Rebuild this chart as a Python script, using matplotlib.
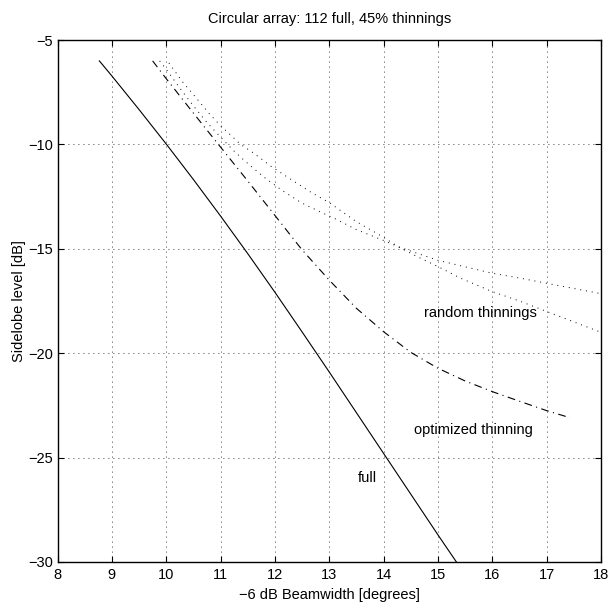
import matplotlib
matplotlib.use('Agg')
from matplotlib import pyplot as plt

# full array
x_full = [8.77, 9.0, 9.5, 10.0, 10.5, 11.0, 11.5, 12.0, 12.5, 13.0, 13.5, 14.0, 14.5, 15.0, 15.34]
y_full = [-6.0, -6.72, -8.33, -9.98, -11.68, -13.43, -15.23, -17.08, -18.98, -20.9, -22.85, -24.8, -26.75, -28.7, -30.0]

# optimized thinning
x_opt = [9.75, 10.0, 10.5, 11.0, 11.5, 12.0, 12.5, 13.0, 13.5, 14.0, 14.5, 15.0, 15.5, 16.0, 16.5, 17.0, 17.43]
y_opt = [-6.0, -6.85, -8.5, -10.13, -11.75, -13.4, -15.05, -16.5, -17.85, -18.97, -19.96, -20.72, -21.33, -21.84, -22.3, -22.75, -23.09]

# random thinnings (two runs)
x_rnd1 = [9.88, 10.0, 10.25, 10.5, 10.75, 11.0, 11.24, 11.45, 11.79, 12.13, 12.49, 12.85, 13.1, 13.5, 14.0, 14.27,
          14.6, 15.0, 15.4, 16.0, 16.5, 17.0, 17.5, 18.0]
y_rnd1 = [-6.0, -6.4, -7.3, -8.15, -8.95, -9.65, -10.3, -10.8, -11.55, -12.2, -12.8, -13.25, -13.55, -14.08, -14.6, -14.9,
          -15.2, -15.55, -15.8, -16.17, -16.4, -16.65, -16.9, -17.15]
x_rnd2 = [10.05, 10.3, 10.56, 10.8, 11.0, 11.37, 11.6, 11.94, 12.31, 12.65, 13.02, 13.17, 13.5, 14.0, 14.27,
          14.6, 15.0, 15.41, 16.0, 16.5, 17.0, 17.5, 18.0]
y_rnd2 = [-6.1, -7.0, -7.8, -8.55, -9.1, -10.0, -10.4, -11.07, -11.7, -12.27, -12.82, -13.1, -13.7, -14.45, -14.9,
          -15.35, -15.85, -16.4, -17.05, -17.5, -18.0, -18.5, -19.0]

x_ticks = [8, 9, 10, 11, 12, 13, 14, 15, 16, 17, 18]
y_ticks = [-30, -25, -20, -15, -10, -5]

plt.rcParams['font.family'] = ['Liberation Sans', 'DejaVu Sans']
plt.rcParams['font.size'] = 10.5

fig = plt.figure(figsize=(6.1, 6.1), dpi=100)
ax = fig.add_axes([0.0943, 0.0787, 0.8909, 0.8557])

ax.plot(x_full, y_full, color='k', linewidth=0.8)
ax.plot(x_opt, y_opt, color='k', linewidth=0.8, linestyle=(0, (7, 4, 1, 4)))
ax.plot(x_rnd1, y_rnd1, color='k', linewidth=0.7, linestyle=(0, (1, 5)))
ax.plot(x_rnd2, y_rnd2, color='k', linewidth=0.7, linestyle=(0, (1, 5)))

ax.text(14.75, -18.07, 'random thinnings', va='center', ha='left')
ax.text(14.56, -23.68, 'optimized thinning', va='center', ha='left')
ax.text(13.53, -26.0, 'full', va='center', ha='left')

ax.set_xlim(8, 18)
ax.set_ylim(-30, -5)
ax.set_xticks(x_ticks)
ax.set_yticks(y_ticks)
ax.set_xticklabels([str(t) for t in x_ticks])
ax.set_yticklabels([str(t).replace('-', '\u2212') for t in y_ticks])
ax.tick_params(direction='in', top=True, right=True, length=4, width=0.8, pad=3)
ax.tick_params(axis='x', pad=4)
ax.grid(True, color='k', linewidth=0.6, linestyle=(0, (1, 5)))
for s in ax.spines.values():
    s.set_linewidth(1.0)

ax.set_title('Circular array: 112 full, 45% thinnings', fontsize=10.5, pad=12)
ax.set_xlabel('\u22126 dB Beamwidth [degrees]', labelpad=5)
ax.set_ylabel('Sidelobe level [dB]', labelpad=2)

plt.savefig('out.png', dpi=100)
